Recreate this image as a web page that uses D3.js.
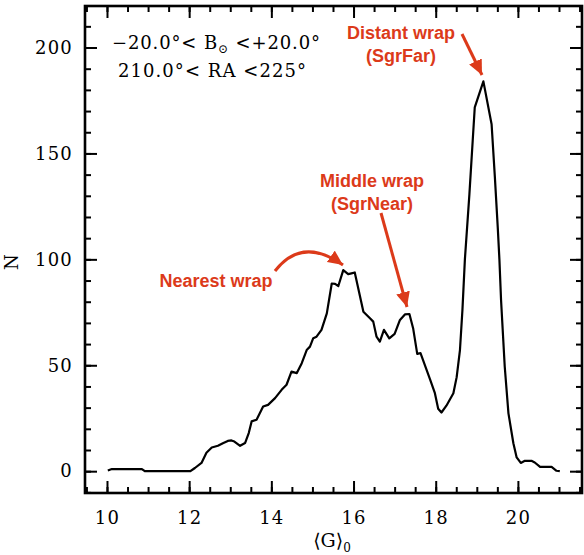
<!DOCTYPE html>
<html>
<head>
<meta charset="utf-8">
<script src="https://cdn.jsdelivr.net/npm/d3@7"></script>
<style>
  body { margin: 0; background: #fff; }
  svg { display: block; }
</style>
</head>
<body>
<svg id="chart" width="584" height="555"></svg>
<script>
// magnitude bins and star counts
var gMag = [10.02, 10.12, 10.85, 10.92, 12.03, 12.14, 12.3, 12.42, 12.55, 12.7, 12.82, 12.94, 13.03, 13.1,
	13.24, 13.36, 13.45, 13.52, 13.64, 13.8, 13.92, 14.09, 14.25, 14.37, 14.49, 14.62, 14.74, 14.86,
	14.94, 15.02, 15.1, 15.22, 15.35, 15.47, 15.55, 15.63, 15.75, 15.87, 15.95, 16.03, 16.24, 16.4,
	16.48, 16.56, 16.64, 16.74, 16.87, 17.0, 17.13, 17.25, 17.36, 17.45, 17.55, 17.63, 17.86, 17.98,
	18.06, 18.14, 18.26, 18.43, 18.51, 18.59, 18.65, 18.71, 18.82, 18.9, 18.95, 19.16, 19.36, 19.44,
	19.51, 19.55, 19.59, 19.68, 19.77, 19.89, 19.97, 20.07, 20.17, 20.33, 20.41, 20.54, 20.82, 20.94, 21.02];
var counts = [0.3, 1, 1, 0, 0, 1.5, 3.9, 8.7, 11.2, 12, 13.2, 14.3, 14.5, 14,
	12, 13.3, 18, 23.5, 24.3, 30.5, 31.3, 34.5, 38.4, 40.8, 47, 46.3, 51, 57.2,
	58.8, 62.8, 63.5, 66.7, 74.5, 88.6, 88.4, 87.4, 94.9, 93, 93.4, 93.8, 75.3, 72.2,
	70.6, 63.5, 61.2, 66.7, 62.7, 64.8, 71.4, 74, 74.2, 67.5, 55.4, 55.7, 43.5, 36.8,
	29.5, 27.7, 30.9, 36.8, 44.4, 57.2, 76, 100, 130.8, 156, 171.7, 184, 163.8, 138.7,
	115, 100, 80.8, 49.3, 27.3, 13.2, 6.5, 3.9, 4.9, 4.9, 4.1, 2, 2, 0.2, 0];

var xMajor = [10, 12, 14, 16, 18, 20];
var yMajor = [0, 50, 100, 150, 200];

// annotations: label lines, text centre, arrow from / to
var wrapLabels = [
	{ lines: ["Distant wrap", "(SgrFar)"], x: 401, y: 39, from: [462, 34], to: [482, 75] },
	{ lines: ["Middle wrap", "(SgrNear)"], x: 372, y: 187, from: [381, 213], to: [407, 307] },
	{ lines: ["Nearest wrap"], x: 216, y: 287, from: [275, 271], to: [343, 265], curve: [302, 236] }
];

var RED = "#dc3a1a";
var SERIF = "'DejaVu Serif', 'Liberation Serif', serif";
var SANS = "'Liberation Sans', Arial, sans-serif";

var svg = d3.select("#chart");
var plotL = 85, plotR = 582, plotT = 6, plotB = 493;

var x = d3.scaleLinear().domain([9.465, 21.56]).range([plotL, plotR]);
var y = d3.scaleLinear().domain([-10.3, 219.6]).range([plotB, plotT]);

function tickAxis(axis, pos, size, values, labels) {
	var g = svg.append("g").attr("transform", pos);
	g.call(axis.tickValues(values).tickSize(size).tickPadding(labels ? 16 : 0)
		.tickFormat(labels ? d3.format("d") : ""));
	g.select(".domain").remove();
	g.selectAll("line").attr("stroke", "#000").attr("stroke-width", 2);
	g.selectAll("text").attr("font-family", SERIF).attr("font-size", 18)
		.attr("letter-spacing", 1.2).attr("fill", "#000");
	return g;
}

var xMinor = d3.range(9.5, 21.6, 0.5);
var yMinor = d3.range(-10, 220, 10);

// bottom & top
tickAxis(d3.axisBottom(x), "translate(0," + plotB + ")", -6, xMinor, false);
var bx = tickAxis(d3.axisBottom(x), "translate(0," + plotB + ")", -12, xMajor, true);
bx.selectAll("text").attr("dy", "0.71em").attr("y", 18);
tickAxis(d3.axisTop(x), "translate(0," + plotT + ")", -6, xMinor, false);
tickAxis(d3.axisTop(x), "translate(0," + plotT + ")", -12, xMajor, false);

// left & right
tickAxis(d3.axisLeft(y), "translate(" + plotL + ",0)", -6, yMinor, false);
var ly = tickAxis(d3.axisLeft(y), "translate(" + plotL + ",0)", -12, yMajor, true);
ly.selectAll("text").attr("x", -12);
tickAxis(d3.axisRight(y), "translate(" + plotR + ",0)", -6, yMinor, false);
tickAxis(d3.axisRight(y), "translate(" + plotR + ",0)", -12, yMajor, false);

// frame
svg.append("rect")
	.attr("x", plotL).attr("y", plotT)
	.attr("width", plotR - plotL).attr("height", plotB - plotT)
	.attr("fill", "none").attr("stroke", "#000").attr("stroke-width", 2.6);

// histogram curve
var line = d3.line()
	.x(function(d, i) { return x(gMag[i]); })
	.y(function(d) { return y(d); });
svg.append("path")
	.datum(counts)
	.attr("d", line)
	.attr("fill", "none")
	.attr("stroke", "#000")
	.attr("stroke-width", 2.2)
	.attr("stroke-linejoin", "round");

// axis titles
var xt = svg.append("text")
	.attr("x", 332).attr("y", 547)
	.attr("text-anchor", "middle")
	.attr("font-family", SERIF).attr("font-size", 19);
xt.append("tspan").text("\u27E8G\u27E9");
xt.append("tspan").attr("font-size", 12).attr("dy", 5).text("0");

svg.append("text")
	.attr("transform", "translate(18,262) rotate(-90)")
	.attr("text-anchor", "middle")
	.attr("font-family", SERIF).attr("font-size", 18)
	.text("N");

// selection box text
var t1 = svg.append("text")
	.attr("x", 112).attr("y", 49)
	.attr("font-family", SERIF).attr("font-size", 18)
	.attr("textLength", 208).attr("lengthAdjust", "spacing");
t1.append("tspan").text("\u221220.0\u00B0< B");
t1.append("tspan").attr("font-size", 12).attr("dy", 4).text("\u2299");
t1.append("tspan").attr("dy", -4).text(" <+20.0\u00B0");

svg.append("text")
	.attr("x", 118).attr("y", 77)
	.attr("font-family", SERIF).attr("font-size", 18)
	.attr("textLength", 188).attr("lengthAdjust", "spacing")
	.text("210.0\u00B0< RA <225\u00B0");

// arrowhead
svg.append("defs").append("marker")
	.attr("id", "head")
	.attr("markerUnits", "userSpaceOnUse")
	.attr("markerWidth", 16).attr("markerHeight", 14)
	.attr("refX", 15).attr("refY", 7)
	.attr("orient", "auto")
	.append("path")
	.attr("d", "M0,0L15,7L0,14Z")
	.attr("fill", RED);

wrapLabels.forEach(function(w) {
	var t = svg.append("text")
		.attr("text-anchor", "middle")
		.attr("font-family", SANS).attr("font-weight", "bold")
		.attr("font-size", 18).attr("fill", RED);
	w.lines.forEach(function(s, i) {
		t.append("tspan").attr("x", w.x).attr("y", w.y + i * 23).text(s);
	});
	var d = w.curve
		? "M" + w.from + "Q" + w.curve + " " + w.to
		: "M" + w.from + "L" + w.to;
	svg.append("path")
		.attr("d", d)
		.attr("fill", "none")
		.attr("stroke", RED)
		.attr("stroke-width", 3)
		.attr("marker-end", "url(#head)");
});
</script>
</body>
</html>
